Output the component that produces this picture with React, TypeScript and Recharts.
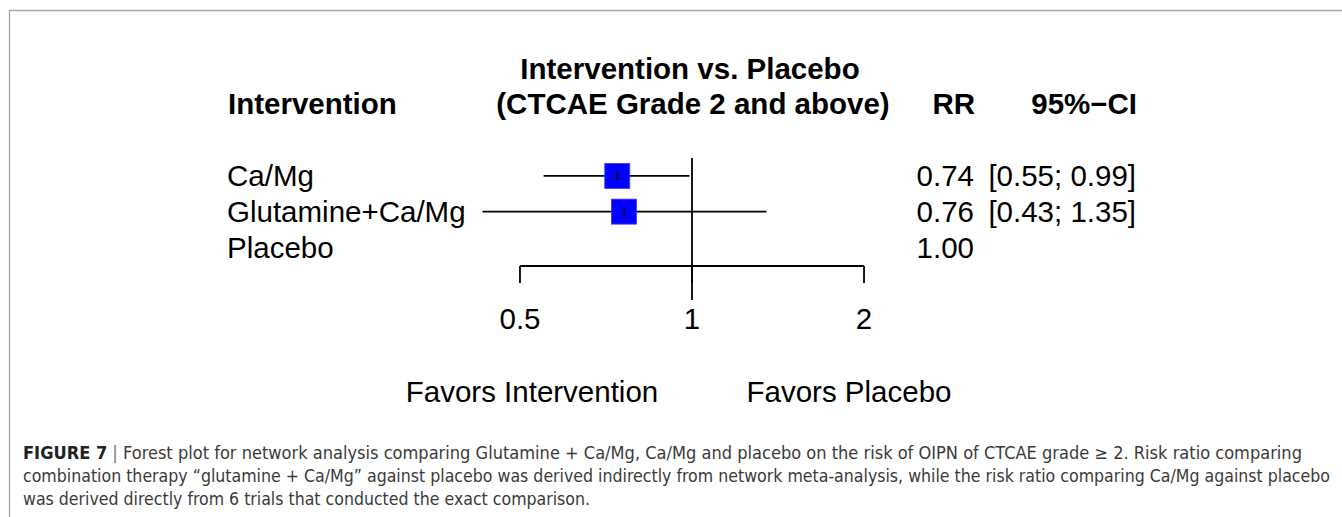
import { ScatterChart, Scatter, XAxis, YAxis, ReferenceLine, ErrorBar } from 'recharts'

// rows of the forest plot, top to bottom
const interventions = ['Ca/Mg', 'Glutamine+Ca/Mg', 'Placebo']
const riskRatio = [0.74, 0.76, 1.0]
const ciLower: (number | null)[] = [0.55, 0.43, null]
const ciUpper: (number | null)[] = [0.99, 1.35, null]
const rrLabels = ['0.74', '0.76', '1.00']
const ciLabels = ['[0.55; 0.99]', '[0.43; 1.35]', '']
const xTicks = [0.5, 1, 2]
const favorsLabels = ['Favors Intervention', 'Favors Placebo']

const FONT = "'Liberation Sans', Arial, Helvetica, sans-serif"
const CAPTION_FONT = "'Liberation Sans Narrow', 'DejaVu Sans Condensed', 'Liberation Sans', sans-serif"
const FS = 29.5

const W = 1342
const H = 517
const X_DOMAIN: [number, number] = [0.4, 2.5]
const Y_DOMAIN: [number, number] = [0.5, 3.52]
const REF_BOTTOM = 4.47

const points = riskRatio
  .map((v, i) => ({ v, i }))
  .filter(({ i }) => ciLower[i] != null && ciUpper[i] != null)
  .map(({ v, i }) => ({
    x: v,
    y: i + 1,
    err: [v - (ciLower[i] as number), (ciUpper[i] as number) - v],
  }))

function SquareShape(props: any) {
  const { cx, cy } = props
  const s = 25
  return <rect x={cx - s / 2} y={cy - s / 2} width={s} height={s} fill="#0000ff" stroke="#3b3bff" strokeWidth={0.8} />
}

function TickShape(props: any) {
  const { cx, cy } = props
  return <line x1={cx} x2={cx} y1={cy - 4} y2={cy + 4} stroke="#000" strokeWidth={1.8} />
}

function rowBaseline(i: number) {
  return 186 + 35.75 * i
}

export default function App() {
  return (
    <div style={{ position: 'absolute', left: 0, top: 0, width: W, height: H, background: '#fff' }}>
      <ScatterChart
        width={W}
        height={H}
        margin={{ top: 158, right: 422.6, bottom: 181, left: 464.6 }}
      >
        <XAxis
          type="number"
          dataKey="x"
          scale="log"
          domain={X_DOMAIN}
          ticks={xTicks}
          interval={0}
          axisLine={false}
          tickLine={{ stroke: '#000', strokeWidth: 1.8 }}
          tickSize={17}
          tickMargin={25}
          height={70}
          tick={{ fontSize: FS, fill: '#000', fontFamily: FONT }}
          tickFormatter={(v: number) => String(v)}
        />
        <YAxis type="number" dataKey="y" domain={Y_DOMAIN} reversed hide />
        <ReferenceLine
          segment={[{ x: xTicks[0], y: Y_DOMAIN[1] }, { x: xTicks[xTicks.length - 1], y: Y_DOMAIN[1] }]}
          stroke="#000"
          strokeWidth={1.8}
          ifOverflow="visible"
        />
        <ReferenceLine
          segment={[{ x: 1, y: Y_DOMAIN[0] }, { x: 1, y: REF_BOTTOM }]}
          stroke="#000"
          strokeWidth={1.8}
          ifOverflow="visible"
        />
        <Scatter data={points} shape={SquareShape} isAnimationActive={false} />
        <Scatter data={points} shape={TickShape} isAnimationActive={false}>
          <ErrorBar dataKey="err" direction="x" width={0} stroke="#000" strokeWidth={1.8} isAnimationActive={false} />
        </Scatter>
      </ScatterChart>

      <svg width={W} height={H} style={{ position: 'absolute', left: 0, top: 0, pointerEvents: 'none' }}>
        {/* figure frame */}
        <line x1={9} x2={W} y1={10.5} y2={10.5} stroke="#a8a8a8" strokeWidth={1.3} />
        <line x1={9.5} x2={9.5} y1={10} y2={H} stroke="#a8a8a8" strokeWidth={1.3} />

        <g fontFamily={FONT} fontSize={FS} fill="#000">
          <text x={690} y={79} textAnchor="middle" fontWeight="bold">Intervention vs. Placebo</text>
          <text x={693} y={114} textAnchor="middle" fontWeight="bold">(CTCAE Grade 2 and above)</text>
          <text x={228} y={114} fontWeight="bold">Intervention</text>
          <text x={975} y={114} textAnchor="end" fontWeight="bold">RR</text>
          <text x={1137} y={114} textAnchor="end" fontWeight="bold">95%−CI</text>

          {interventions.map((name, i) => (
            <text key={name} x={227} y={rowBaseline(i)}>{name}</text>
          ))}
          {rrLabels.map((t, i) => (
            <text key={'rr' + i} x={974} y={rowBaseline(i)} textAnchor="end">{t}</text>
          ))}
          {ciLabels.map((t, i) => (
            <text key={'ci' + i} x={1136} y={rowBaseline(i)} textAnchor="end">{t}</text>
          ))}

          <text x={532} y={402} textAnchor="middle">{favorsLabels[0]}</text>
          <text x={849} y={402} textAnchor="middle">{favorsLabels[1]}</text>
        </g>

        <g fontFamily={CAPTION_FONT} fontSize={17} fill="#3a3a3a">
          <text x={23} y={459} textLength={1279} lengthAdjust="spacingAndGlyphs">
            <tspan fontWeight="bold" fill="#222">FIGURE 7</tspan>
            <tspan fill="#777"> | </tspan>
            <tspan>Forest plot for network analysis comparing Glutamine + Ca/Mg, Ca/Mg and placebo on the risk of OIPN of CTCAE grade ≥ 2. Risk ratio comparing</tspan>
          </text>
          <text x={23} y={482} textLength={1307} lengthAdjust="spacingAndGlyphs">
            combination therapy “glutamine + Ca/Mg” against placebo was derived indirectly from network meta-analysis, while the risk ratio comparing Ca/Mg against placebo
          </text>
          <text x={23} y={505} textLength={567} lengthAdjust="spacingAndGlyphs">
            was derived directly from 6 trials that conducted the exact comparison.
          </text>
        </g>
      </svg>
    </div>
  )
}
